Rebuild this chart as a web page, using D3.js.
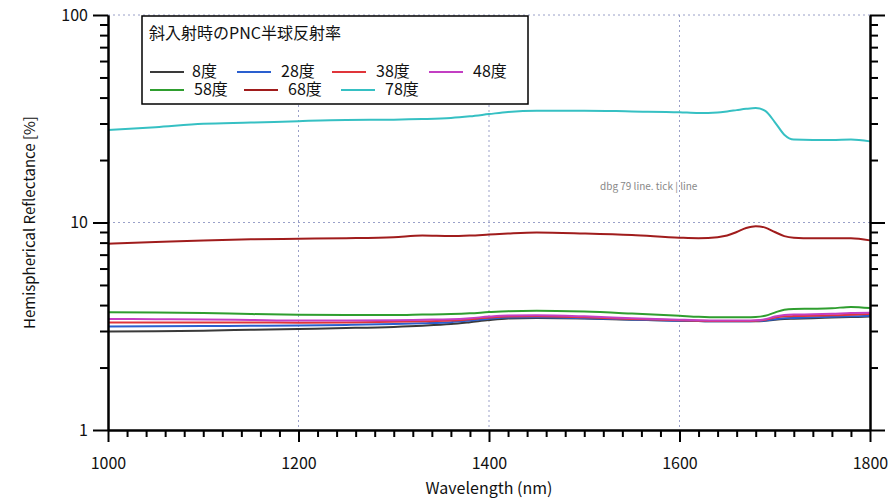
<!DOCTYPE html>
<html lang="ja">
<head>
<meta charset="UTF-8">
<title>PNC Hemispherical Reflectance</title>
<script src="https://d3js.org/d3.v7.min.js"></script>
<style>
    body { margin: 0; background: #fff; overflow: hidden; }
    svg { display: block; }
    svg text { font-family: "Noto Sans CJK JP", "Noto Sans", sans-serif; fill: #111; }
</style>
</head>
<body>
<div id="chart"></div>
<script>
// wavelength sample points (nm)
var wavelengths = [1000, 1050, 1100, 1150, 1200, 1250, 1300, 1330, 1360, 1380,
                   1400, 1420, 1450, 1500, 1550, 1600, 1620, 1640, 1650, 1660,
                   1670, 1680, 1690, 1700, 1710, 1720, 1740, 1760, 1780, 1800];

var seriesNames = ["8度", "28度", "38度", "48度", "58度", "68度", "78度"];
var seriesColors = ["#3a3a3a", "#2a5fcf", "#e0353a", "#c33fc3", "#2f9e2f", "#a01c1c", "#36c0c3"];

// reflectance [%]
var r8  = [2.98, 2.99, 3.01, 3.04, 3.07, 3.10, 3.14, 3.18, 3.24, 3.31,
           3.39, 3.45, 3.47, 3.45, 3.40, 3.36, 3.35, 3.34, 3.34, 3.34,
           3.34, 3.34, 3.36, 3.40, 3.43, 3.44, 3.46, 3.48, 3.50, 3.52];
var r28 = [3.15, 3.16, 3.17, 3.18, 3.19, 3.21, 3.24, 3.27, 3.31, 3.37,
           3.44, 3.48, 3.49, 3.46, 3.41, 3.36, 3.35, 3.34, 3.34, 3.34,
           3.34, 3.35, 3.37, 3.42, 3.46, 3.47, 3.49, 3.51, 3.53, 3.55];
var r38 = [3.30, 3.30, 3.30, 3.30, 3.29, 3.30, 3.32, 3.34, 3.37, 3.42,
           3.48, 3.52, 3.53, 3.49, 3.43, 3.38, 3.36, 3.35, 3.35, 3.35,
           3.35, 3.36, 3.40, 3.48, 3.53, 3.54, 3.55, 3.57, 3.59, 3.62];
var r48 = [3.43, 3.42, 3.41, 3.39, 3.37, 3.37, 3.38, 3.40, 3.42, 3.46,
           3.52, 3.56, 3.57, 3.53, 3.46, 3.40, 3.38, 3.37, 3.37, 3.37,
           3.37, 3.38, 3.42, 3.52, 3.58, 3.60, 3.61, 3.63, 3.66, 3.67];
var r58 = [3.69, 3.68, 3.66, 3.62, 3.59, 3.58, 3.58, 3.60, 3.62, 3.65,
           3.70, 3.74, 3.76, 3.72, 3.64, 3.55, 3.51, 3.49, 3.49, 3.49,
           3.49, 3.50, 3.55, 3.68, 3.80, 3.83, 3.84, 3.86, 3.92, 3.87];
var r68 = [7.90, 8.05, 8.20, 8.30, 8.35, 8.40, 8.50, 8.65, 8.60, 8.65,
           8.75, 8.85, 8.95, 8.85, 8.70, 8.45, 8.40, 8.50, 8.65, 9.00,
           9.40, 9.60, 9.45, 9.00, 8.60, 8.45, 8.40, 8.40, 8.40, 8.20];
var r78 = [27.9, 28.8, 29.9, 30.3, 30.8, 31.2, 31.3, 31.5, 31.9, 32.5,
           33.3, 34.1, 34.6, 34.6, 34.3, 34.0, 33.7, 33.9, 34.3, 34.8,
           35.3, 35.6, 34.5, 30.5, 26.5, 25.1, 25.0, 25.0, 25.1, 24.6];
var seriesValues = [r8, r28, r38, r48, r58, r68, r78];

var xMajorTicks = [1000, 1200, 1400, 1600, 1800];
var yMajorTicks = [1, 10, 100];
var legendTitle = "斜入射時のPNC半球反射率";

var W = 894, H = 498;
var plotLeft = 108, plotRight = 870, plotTop = 15, plotBottom = 430;

var svg = d3.select("#chart").append("svg")
    .attr("width", W)
    .attr("height", H);

var xScale = d3.scaleLinear().domain([1000, 1800]).range([plotLeft, plotRight]);
var yScale = d3.scaleLog().domain([1, 100]).range([plotBottom, plotTop]);

var yMinor = [];
[1, 10].forEach(function(d) {
    for (var k = 2; k <= 9; k++) yMinor.push(d * k);
});
var xMinor = d3.range(1000, 1801, 20).filter(function(d) { return xMajorTicks.indexOf(d) < 0; });

// dotted grid
var grid = svg.append("g").attr("stroke", "#9aa0c8").attr("stroke-width", 1).attr("stroke-dasharray", "2,3");
grid.selectAll(".gx").data([1200, 1400, 1600]).enter().append("line")
    .attr("x1", function(d) { return xScale(d); }).attr("x2", function(d) { return xScale(d); })
    .attr("y1", plotTop).attr("y2", plotBottom);
grid.selectAll(".gy").data([10, 100]).enter().append("line")
    .attr("x1", plotLeft).attr("x2", plotRight)
    .attr("y1", function(d) { return yScale(d); }).attr("y2", function(d) { return yScale(d); });

// data lines
var lineGen = d3.line()
    .x(function(d) { return xScale(d[0]); })
    .y(function(d) { return yScale(d[1]); })
    .curve(d3.curveMonotoneX);

svg.append("g").attr("class", "series").selectAll("path")
    .data(seriesValues)
    .enter().append("path")
    .attr("fill", "none")
    .attr("stroke", function(d, i) { return seriesColors[i]; })
    .attr("stroke-width", 2)
    .attr("d", function(vals) {
        return lineGen(vals.map(function(v, i) { return [wavelengths[i], v]; }));
    });

// axes
function styleAxis(g) {
    g.select(".domain").style("stroke", "#000").style("stroke-width", "2px");
    g.selectAll(".tick line").style("stroke", "#000").style("stroke-width", "2px");
    g.selectAll(".tick text").style("font-size", "16px").style("fill", "#111");
}
function noLabel() { return ""; }

var axesLayer = svg.append("g").attr("class", "axes");

axesLayer.append("g").attr("transform", "translate(0," + plotBottom + ")")
    .call(d3.axisBottom(xScale).tickValues(xMinor).tickSize(7).tickSizeOuter(0).tickFormat(noLabel))
    .call(styleAxis);
axesLayer.append("g").attr("transform", "translate(0," + plotBottom + ")")
    .call(d3.axisBottom(xScale).tickValues(xMajorTicks).tickSize(12).tickSizeOuter(0).tickPadding(16).tickFormat(d3.format("d")))
    .call(styleAxis);

axesLayer.append("g").attr("transform", "translate(" + plotLeft + ",0)")
    .call(d3.axisLeft(yScale).tickValues(yMinor).tickSize(8).tickSizeOuter(0).tickFormat(noLabel))
    .call(styleAxis);
axesLayer.append("g").attr("transform", "translate(" + plotLeft + ",0)")
    .call(d3.axisLeft(yScale).tickValues(yMajorTicks).tickSize(15).tickSizeOuter(0).tickPadding(5).tickFormat(d3.format("d")))
    .call(styleAxis);

axesLayer.append("g").attr("transform", "translate(" + plotRight + ",0)")
    .call(d3.axisRight(yScale).tickValues(yMinor).tickSize(8).tickSizeOuter(0).tickFormat(noLabel))
    .call(styleAxis);
axesLayer.append("g").attr("transform", "translate(" + plotRight + ",0)")
    .call(d3.axisRight(yScale).tickValues(yMajorTicks).tickSize(15).tickSizeOuter(0).tickFormat(noLabel))
    .call(styleAxis);

// axis titles
svg.append("text")
    .attr("x", 489).attr("y", 494)
    .attr("text-anchor", "middle")
    .style("font-size", "16px")
    .text("Wavelength (nm)");

svg.append("text")
    .attr("transform", "translate(35," + ((plotTop + plotBottom) / 2) + ") rotate(-90)")
    .attr("text-anchor", "middle")
    .style("font-size", "15px")
    .text("Hemispherical Reflectance [%]");

// legend
var legend = svg.append("g").attr("class", "legend");
legend.append("rect")
    .attr("x", 142).attr("y", 16)
    .attr("width", 386).attr("height", 88)
    .attr("fill", "#fff").attr("stroke", "#000").attr("stroke-width", 1.5);
legend.append("text")
    .attr("x", 149).attr("y", 39)
    .style("font-size", "16px")
    .text(legendTitle);

// legend slot positions: [line start x, row y]
var legendSlots = [[150, 72], [237, 72], [332, 72], [429, 72], [150, 90], [244, 90], [341, 90]];
var items = legend.selectAll(".item")
    .data(seriesNames)
    .enter().append("g")
    .attr("class", "item")
    .attr("transform", function(d, i) { return "translate(" + legendSlots[i][0] + "," + legendSlots[i][1] + ")"; });
items.append("line")
    .attr("x1", 0).attr("x2", 34)
    .attr("stroke", function(d, i) { return seriesColors[i]; })
    .attr("stroke-width", 2);
items.append("text")
    .attr("x", function(d) { return d.length > 2 ? 44 : 42; })
    .attr("dy", "0.32em")
    .style("font-size", "16px")
    .text(function(d) { return d; });

// temporary check: what sits on the 1200 tick and on a minor y tick
var hit1 = document.elementFromPoint(Math.round(xScale(1200)), 436);
var hit2 = document.elementFromPoint(104, Math.round(yScale(5)));
var nTicks = svg.selectAll(".tick").size();
svg.append("text").attr("x", 600).attr("y", 190).style("font-size", "10px").style("fill", "#888")
    .text("dbg " + nTicks + " " + (hit1 ? hit1.tagName + "." + (hit1.getAttribute("class") || "") + " " + (hit1.parentNode.getAttribute("class") || "") : "none") +
          " | " + (hit2 ? hit2.tagName : "none"));
</script>
</body>
</html>
